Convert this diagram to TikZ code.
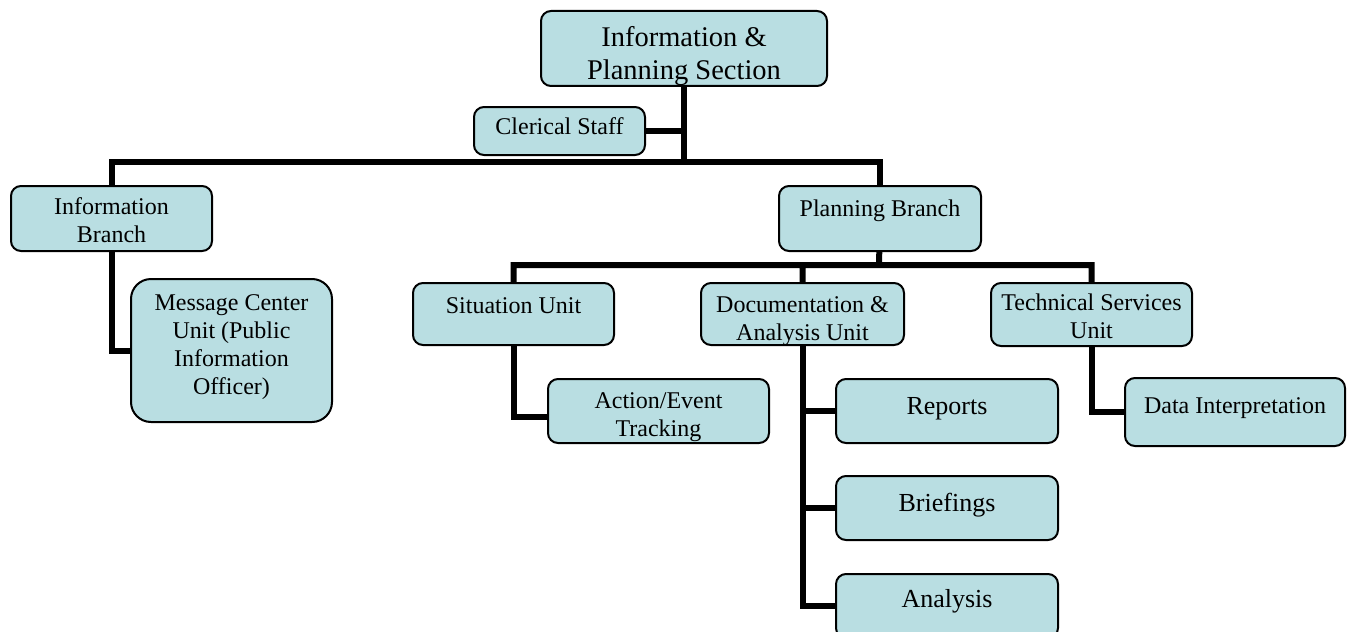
\documentclass[tikz,border=0pt]{standalone}
\usepackage{fontspec}
\setmainfont{Liberation Serif}
\usetikzlibrary{positioning}
\definecolor{boxfill}{RGB}{185,222,226}

\begin{document}
\begin{tikzpicture}[x=0.5pt,y=-0.5pt,
    unit/.style={draw=black, line width=1pt, fill=boxfill,
        rounded corners=5pt, inner sep=0pt, align=center,
        font=\fontsize{12}{14}\selectfont},
    link/.style={line width=3pt}]
\useasboundingbox (0,0) rectangle (1352,631);
\clip (0,0) rectangle (1352,631);

% Section block
\node[unit,
    anchor=north west,
    minimum width=143pt, text height=34.5pt, text depth=3pt,
    font=\fontsize{14.25}{17}\selectfont
    ] (section) at (540,10) {Information \&\\Planning Section};

\node[unit,
    anchor=north west,
    minimum width=85.5pt, text height=13.5pt, text depth=10.5pt
    ] (clerk) at (473,106) {Clerical Staff};

% Branch blocks
\node[unit,
    anchor=north west,
    minimum width=100.5pt, text height=28pt, text depth=4.5pt
    ] (infob) at (10,185) {Information\\Branch};

\node[unit,
    anchor=north west,
    minimum width=101pt, text height=15pt, text depth=17.5pt
    ] (planb) at (778,185) {Planning Branch};

% Unit blocks
\node[unit,
    anchor=north west, rounded corners=10pt,
    minimum width=100.5pt, text height=57.5pt, text depth=14pt
    ] (msg) at (130,278) {Message Center\\Unit (Public\\Information\\Officer)};

\node[unit,
    anchor=north west,
    minimum width=100.5pt, text height=15pt, text depth=16pt
    ] (situ) at (412,282) {Situation Unit};

\node[unit,
    anchor=north west,
    minimum width=101.5pt, text height=28.5pt, text depth=2.5pt
    ] (docu) at (700,282) {Documentation \&\\Analysis Unit};

\node[unit,
    anchor=north west,
    minimum width=100.5pt, text height=27.5pt, text depth=4pt
    ] (tech) at (990,282) {Technical Services\\Unit};

% Sub-unit blocks
\node[unit,
    anchor=north west,
    minimum width=110.5pt, text height=28.5pt, text depth=3.5pt
    ] (track) at (547,378) {Action/Event\\Tracking};

\node[unit,
    anchor=north west,
    minimum width=111pt, text height=17.5pt, text depth=14.5pt,
    font=\fontsize{13}{15}\selectfont
    ] (rep) at (835,378) {Reports};

\node[unit,
    below=15.5pt of rep,
    minimum width=111pt, text height=17.5pt, text depth=14.5pt,
    font=\fontsize{13}{15}\selectfont
    ] (brief) {Briefings};

\node[unit,
    below=16pt of brief,
    minimum width=111pt, text height=16.5pt, text depth=15.5pt,
    font=\fontsize{13}{15}\selectfont
    ] (ana) {Analysis};

\node[unit,
    anchor=north west,
    minimum width=110pt, text height=17.5pt, text depth=16.5pt
    ] (data) at (1124,377) {Data Interpretation};

% Bus points
\coordinate (topbus) at (683,162);
\coordinate (planbus) at (879,265);

% Connectors
\draw[link] (section) -- (section |- topbus)
    (clerk) -- (clerk -| section)
    (infob) |- (topbus) -| (planb);
\draw[link] (planb) -- (planbus)
    (situ) |- (planbus) -| (tech)
    (docu) -- (docu |- planbus);
\draw[link] (infob) |- (msg);
\draw[link] (situ) |- ([yshift=-3pt]track.west);
\draw[link] (docu) |- (ana)
    (docu |- rep) -- (rep)
    (docu |- brief) -- (brief);
\draw[link] (tech) |- (data);

\end{tikzpicture}
\end{document}
